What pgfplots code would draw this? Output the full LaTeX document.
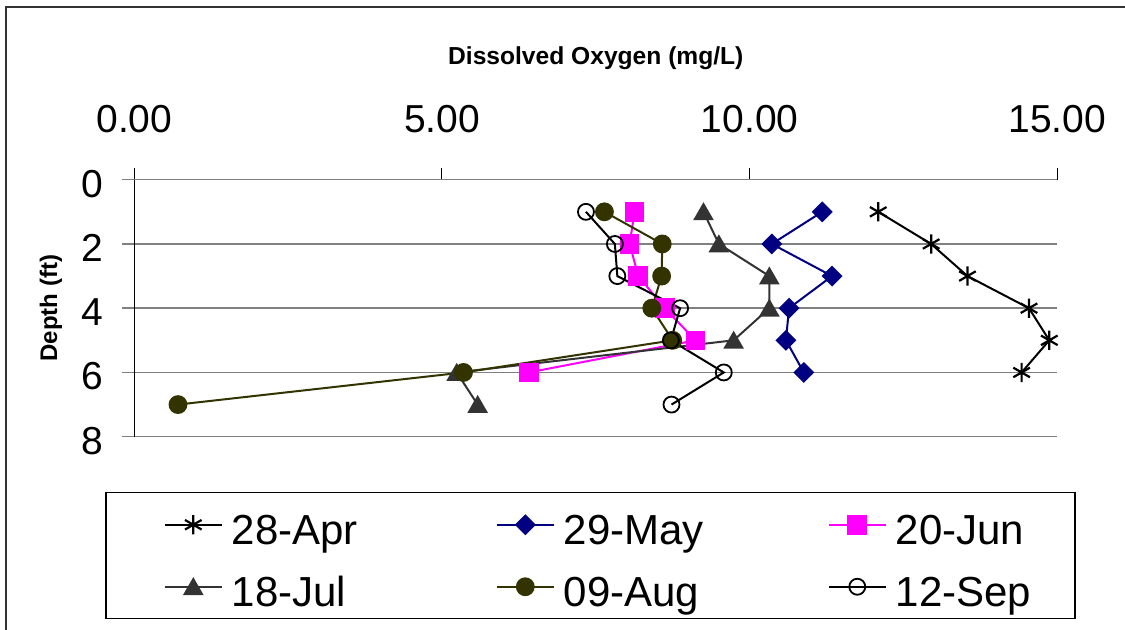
\documentclass[border=0pt]{standalone}
\usepackage{fontspec}
\setmainfont{Liberation Sans}
\usepackage{pgfplots}
\pgfplotsset{compat=1.18}

\definecolor{maySeries}{RGB}{0,0,128}
\definecolor{junSeries}{RGB}{255,0,255}
\definecolor{julSeries}{RGB}{51,51,51}
\definecolor{augSeries}{RGB}{51,51,0}
\definecolor{gridgray}{RGB}{128,128,128}

\begin{document}
\begin{tikzpicture}
\useasboundingbox (0pt,0pt) rectangle (562.5pt,315pt);
% outer chart frame (left and top edges)
\draw[line width=0.8pt, black!80] (3pt,-5pt) -- (3pt,311.5pt) -- (570pt,311.5pt);
\begin{axis}[
  at={(67.15pt,96.65pt)}, anchor=south west,
  scale only axis, width=461.5pt, height=128.5pt,
  xmin=0, xmax=15, ymin=0, ymax=8, y dir=reverse,
  xtick={0,5,10,15}, ytick={0,2,4,6,8},
  axis y line*=left, axis x line*=top,
  y axis line style={black, line width=0.6pt},
  x axis line style={gridgray, line width=0.75pt},
  tick align=outside, major tick length=6pt,
  xtick style={black, line width=0.5pt},
  ytick style={gridgray, line width=0.75pt},
  ymajorgrids, major grid style={gridgray, line width=0.75pt},
  /pgf/number format/assume math mode=true,
  tick label style={font=\fontsize{19.5}{20}\selectfont},
  xticklabel style={yshift=14pt},
  yticklabel style={xshift=-6pt, yshift=-2pt},
  xticklabel={\pgfmathprintnumber[fixed,fixed zerofill,precision=2]{\tick}},
  yticklabel={\pgfmathprintnumber[fixed,precision=0]{\tick}},
  xlabel={Dissolved Oxygen (mg/L)},
  xlabel style={at={(axis description cs:0.5,1.449)}, anchor=base,
    font=\bfseries\fontsize{12.3}{14}\selectfont},
  ylabel={Depth (ft)},
  ylabel style={at={(axis description cs:-0.0836,0.5)}, anchor=base,
    font=\bfseries\fontsize{12}{14}\selectfont},
  legend columns=3,
  legend style={at={(axis description cs:-0.0317,-0.2152)}, anchor=north west,
    draw=black, line width=0.75pt, inner xsep=29pt, inner ysep=6pt,
    row sep=11pt, font=\fontsize{21}{22}\selectfont,
    nodes={text width=56pt, inner xsep=4.5pt, inner ysep=0pt,
      text height=20pt, text depth=0pt, align=left},
    cells={anchor=west},
    /tikz/every even column/.append style={column sep=71.5pt}},
  legend image code/.code={%
    \draw[mark repeat=2,mark phase=2] plot coordinates {(0pt,0pt) (14.25pt,0pt) (28.5pt,0pt)};},
  every axis plot/.append style={line width=1pt},
]
\addplot[black, mark=asterisk, mark size=4.8pt, mark options={line width=1.1pt}]
  coordinates {(12.09,1) (12.95,2) (13.54,3) (14.54,4) (14.87,5) (14.42,6)};
\addlegendentry{\mbox{28-Apr}}
\addplot[maySeries, mark=square*, mark size=3.2pt, mark options={rotate=45, fill=maySeries}]
  coordinates {(11.18,1) (10.36,2) (11.34,3) (10.64,4) (10.59,5) (10.88,6)};
\addlegendentry{\mbox{29-May}}
\addplot[junSeries, mark=square*, mark size=4.4pt, mark options={fill=junSeries}]
  coordinates {(8.13,1) (8.05,2) (8.19,3) (8.62,4) (9.12,5) (6.41,6)};
\addlegendentry{\mbox{20-Jun}}
\addplot[julSeries, mark=triangle*, mark size=5pt, mark options={fill=julSeries, yshift=-1.2pt}]
  coordinates {(9.25,1) (9.50,2) (10.32,3) (10.32,4) (9.74,5) (5.24,6) (5.58,7)};
\addlegendentry{\mbox{18-Jul}}
\addplot[augSeries, mark=*, mark size=4.2pt, mark options={fill=augSeries}]
  coordinates {(7.64,1) (8.58,2) (8.57,3) (8.41,4) (8.75,5) (5.35,6) (0.71,7)};
\addlegendentry{\mbox{09-Aug}}
\addplot[black, mark=o, mark size=4pt, mark options={fill=white, line width=0.9pt}]
  coordinates {(7.34,1) (7.81,2) (7.85,3) (8.87,4) (8.72,5) (9.58,6) (8.73,7)};
\addlegendentry{\mbox{12-Sep}}
\end{axis}
\end{tikzpicture}
\end{document}
